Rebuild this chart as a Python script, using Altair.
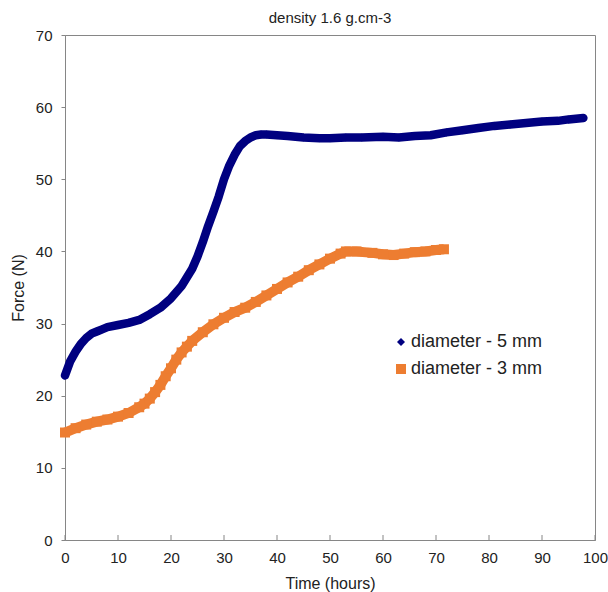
import altair as alt
import pandas as pd

# diameter - 5 mm (readings from the picture)
t5 = [0, 1, 2, 3, 4, 5, 6, 7, 8, 10, 12, 14, 16, 18, 20, 22, 24, 25, 26, 27, 28, 29, 30,
      31, 32, 33, 34, 35, 36, 37, 38, 40, 42, 45, 48, 50, 53, 56, 60, 63, 66, 69, 72, 75,
      78, 81, 84, 87, 90, 93, 95, 97.8]
f5 = [22.8, 24.8, 26.1, 27.2, 28.0, 28.6, 28.9, 29.2, 29.5, 29.8, 30.1, 30.5, 31.3, 32.2,
      33.5, 35.2, 37.6, 39.3, 41.3, 43.5, 45.5, 47.6, 50.0, 51.9, 53.4, 54.6, 55.3, 55.8,
      56.1, 56.2, 56.2, 56.1, 56.0, 55.8, 55.7, 55.7, 55.8, 55.8, 55.9, 55.8, 56.0, 56.1,
      56.5, 56.8, 57.1, 57.4, 57.6, 57.8, 58.0, 58.1, 58.3, 58.5]

# diameter - 3 mm
t3 = [0, 2, 4, 6, 8, 10, 12, 14, 15, 16, 17, 18, 19, 20, 21, 22, 23, 24, 26, 28, 30, 32,
      34, 36, 38, 40, 42, 44, 46, 48, 50, 52, 53, 55, 58, 60, 62, 64, 66, 68, 70, 71.5]
f3 = [14.9, 15.5, 16.0, 16.4, 16.7, 17.1, 17.6, 18.4, 18.9, 19.6, 20.5, 21.5, 22.7, 23.8,
      25.0, 26.0, 26.8, 27.6, 28.8, 29.9, 30.8, 31.6, 32.2, 33.0, 33.9, 34.8, 35.7, 36.5,
      37.4, 38.2, 39.0, 39.7, 40.0, 40.0, 39.8, 39.6, 39.5, 39.7, 39.9, 40.0, 40.2, 40.3]

series = ["diameter - 5 mm", "diameter - 3 mm"]
colors = ["#000080", "#ED7D31"]
shapes = ["diamond", "square"]
x_ticks = [0, 10, 20, 30, 40, 50, 60, 70, 80, 90, 100]

df = pd.concat([
    pd.DataFrame({"series": series[0], "t": t5, "f": f5}),
    pd.DataFrame({"series": series[1], "t": t3, "f": f3}),
], ignore_index=True)
df["order"] = range(len(df))

W, H = 530, 505
FONT = "Liberation Sans"
GRAY = "#868686"
TXT = "#222222"

xscale = alt.Scale(domain=[0, 100], nice=False, zero=True)
yscale = alt.Scale(domain=[0, 70], nice=False)

x_enc = alt.X("t:Q", scale=xscale, title="Time (hours)",
              axis=alt.Axis(values=x_ticks, ticks=False, grid=False, labelPadding=10,
                            titlePadding=10, labelFlush=False, labelBound=False))
y_enc = alt.Y("f:Q", scale=yscale, title="Force (N)",
              axis=alt.Axis(values=list(range(0, 71, 10)), tickSize=4, grid=False,
                            labelPadding=9, titlePadding=9, labelFlush=False))
color_scale = alt.Scale(domain=series, range=colors)

base = alt.Chart(df)

lines = base.transform_filter(alt.datum.series == series[0]).mark_line(
    strokeWidth=8.5, color=colors[0], strokeJoin="round", strokeCap="round"
).encode(x=x_enc, y=y_enc, order="order:Q")

lines3 = base.transform_filter(alt.datum.series == series[1]).mark_line(
    strokeWidth=10, color=colors[1], strokeJoin="miter", strokeCap="butt"
).encode(x=x_enc, y=y_enc, order="order:Q")

points = base.mark_point(filled=True, opacity=1).encode(
    x=x_enc, y=y_enc,
    color=alt.Color("series:N", scale=color_scale,
                    legend=alt.Legend(title=None, orient="none", legendX=327, legendY=298,
                                      symbolSize=28, labelFontSize=18, labelFont=FONT,
                                      labelColor=TXT, labelOffset=1, rowPadding=9,
                                      padding=0)),
    shape=alt.Shape("series:N", scale=alt.Scale(domain=series, range=shapes), legend=None),
    size=alt.Size("series:N", scale=alt.Scale(domain=series, range=[65, 100]), legend=None),
)

ticks_df = pd.DataFrame({"t": x_ticks})
xticks = alt.Chart(ticks_df).mark_rule(color=GRAY, strokeWidth=1).encode(
    x=alt.X("t:Q", scale=xscale),
    y=alt.value(H - 5), y2=alt.value(H),
)

chart = alt.layer(lines3, lines, points, xticks).properties(
    width=W, height=H,
    title=alt.TitleParams("density 1.6 g.cm-3", fontSize=15, fontWeight="normal",
                          font=FONT, color=TXT, anchor="middle", offset=2),
    padding={"left": 65, "top": 35, "right": 13, "bottom": 52},
    autosize=alt.AutoSizeParams(type="none"),
).configure_view(stroke=GRAY, strokeWidth=1).configure_axis(
    domainColor=GRAY, tickColor=GRAY, labelFont=FONT, titleFont=FONT, labelFontSize=15,
    titleFontSize=16, labelColor=TXT, titleColor=TXT, titleFontWeight="normal",
    domainWidth=1,
)

chart.save("out.html", embed_options={"renderer": "svg", "actions": False})
